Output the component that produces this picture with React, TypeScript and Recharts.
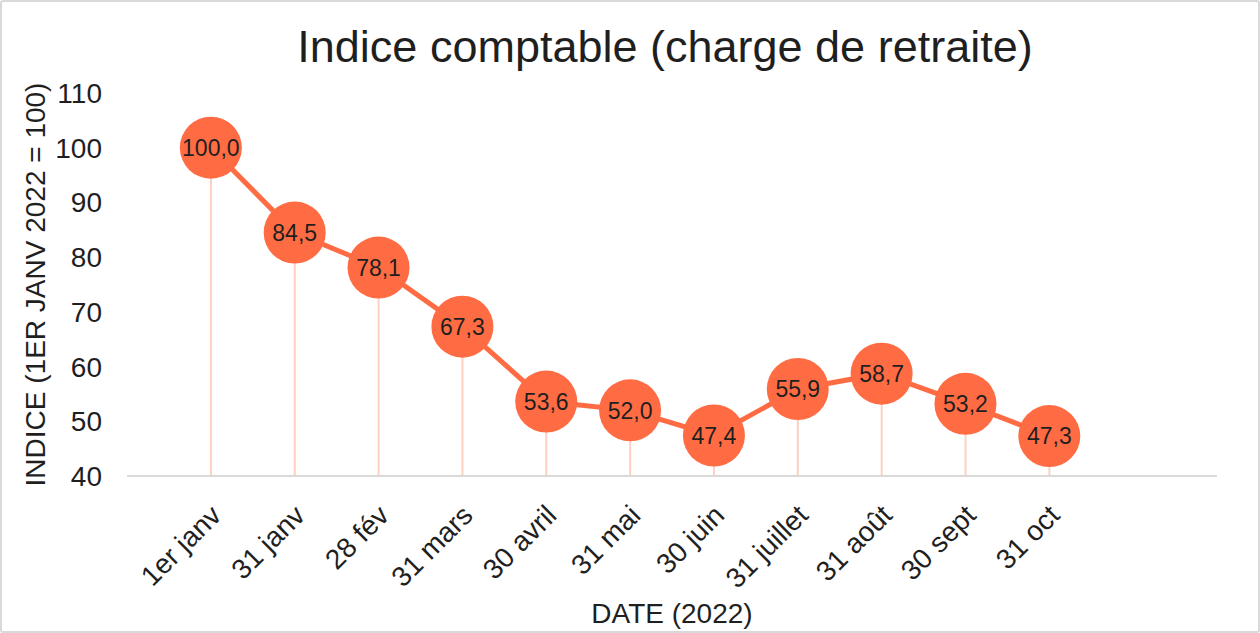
import React from "react";
import { ComposedChart, Line, Bar, XAxis, YAxis, LabelList, Label } from "recharts";

const dates = ["1er janv", "31 janv", "28 fév", "31 mars", "30 avril", "31 mai", "30 juin", "31 juillet", "31 août", "30 sept", "31 oct"];
const values = [100.0, 84.5, 78.1, 67.3, 53.6, 52.0, 47.4, 55.9, 58.7, 53.2, 47.3];
const yTicks = [40, 50, 60, 70, 80, 90, 100, 110];
const xTicks = dates.map((_, i) => i + 1);

const data = dates.map((d, i) => ({ pos: i + 1, date: d, value: values[i] }));

const FONT = "'Liberation Sans', Arial, sans-serif";
const ORANGE = "#FF6C43";
const PINK = "#FCD0C3";
const TEXT = "#1f1f1f";

const fmt = (v: any) => Number(v).toFixed(1).replace(".", ",");

export default function App() {
  return (
    <div style={{ position: "absolute", left: 0, top: 0, width: 1260, height: 633, background: "#fff", fontFamily: FONT }}>
      <div
        style={{
          position: "absolute",
          inset: 0,
          border: "2.5px solid #d9d9d9",
          borderRadius: 3,
          boxSizing: "border-box",
          pointerEvents: "none",
        }}
      />
      <div
        style={{
          position: "absolute",
          left: 665,
          top: 24,
          transform: "translateX(-50%)",
          whiteSpace: "nowrap",
          fontSize: 45,
          lineHeight: "45px",
          color: TEXT,
        }}
      >
        Indice comptable (charge de retraite)
      </div>
      <ComposedChart width={1260} height={633} data={data} margin={{ top: 93, right: 43, bottom: 0, left: 0 }}>
        <XAxis
          type="number"
          dataKey="pos"
          domain={[0, 13]}
          ticks={xTicks}
          interval={0}
          tickFormatter={(v: number) => dates[v - 1] ?? ""}
          tickLine={false}
          tickSize={0}
          tickMargin={27}
          angle={-45}
          textAnchor="end"
          dx={-2}
          height={157}
          axisLine={{ stroke: "#d9d9d9", strokeWidth: 2 }}
          tick={{ fontSize: 28, fill: TEXT, fontFamily: FONT }}
        >
          <Label value="DATE (2022)" position="insideBottom" offset={10} style={{ fontSize: 28, fill: TEXT, fontFamily: FONT }} />
        </XAxis>
        <YAxis
          type="number"
          domain={[40, 110]}
          ticks={yTicks}
          interval={0}
          width={127}
          axisLine={false}
          tickLine={false}
          tickSize={0}
          tickMargin={25}
          tick={{ fontSize: 28, fill: TEXT, fontFamily: FONT }}
        >
          <Label
            value="INDICE (1ER JANV 2022 = 100)"
            angle={-90}
            position="center"
            dx={-28}
            style={{ fontSize: 28, fill: TEXT, fontFamily: FONT, textAnchor: "middle" }}
          />
        </YAxis>
        <Bar dataKey="value" barSize={2} fill={PINK} isAnimationActive={false} />
        <Line
          type="linear"
          dataKey="value"
          stroke={ORANGE}
          strokeWidth={5}
          dot={{ r: 31, fill: ORANGE, stroke: "none", strokeWidth: 0 }}
          activeDot={false}
          isAnimationActive={false}
        >
          <LabelList
            dataKey="value"
            position="center"
            formatter={fmt}
            style={{ fontSize: 23, fill: TEXT, fontFamily: FONT }}
          />
        </Line>
      </ComposedChart>
    </div>
  );
}
